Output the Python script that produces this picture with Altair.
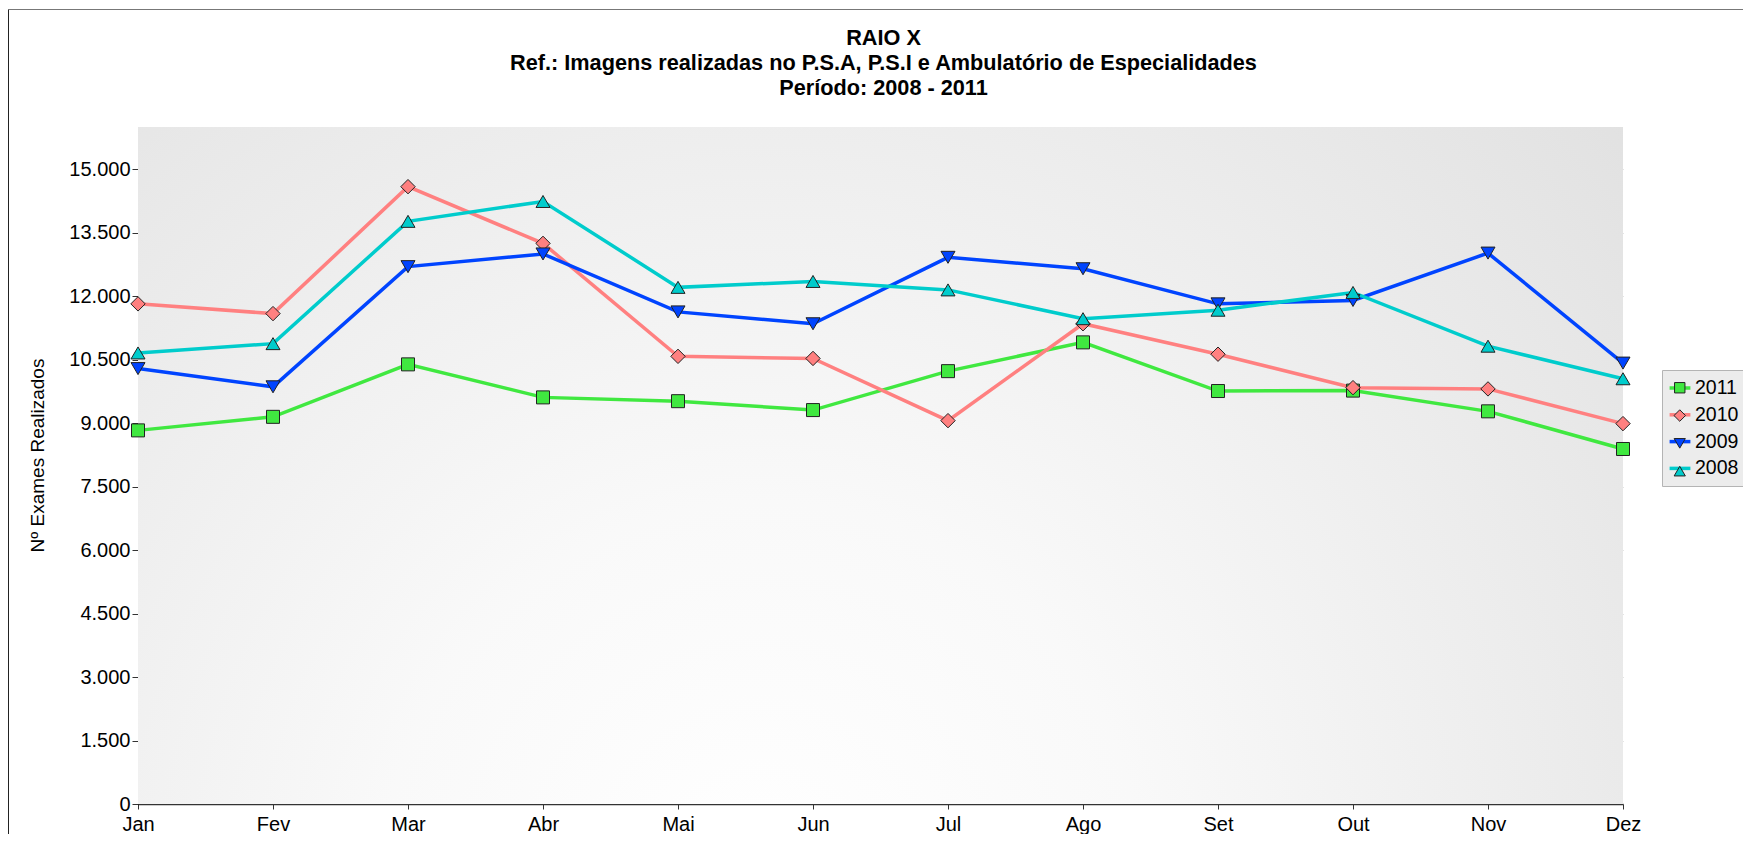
import altair as alt
import pandas as pd

# ---- data ----
months = ["Jan", "Fev", "Mar", "Abr", "Mai", "Jun", "Jul", "Ago", "Set", "Out", "Nov", "Dez"]
years = ["2011", "2010", "2009", "2008"]
v2011 = [8830, 9150, 10390, 9610, 9520, 9310, 10230, 10910, 9760, 9770, 9280, 8390]
v2010 = [11820, 11590, 14590, 13250, 10580, 10530, 9060, 11350, 10630, 9840, 9810, 8990]
v2009 = [10290, 9860, 12700, 13000, 11630, 11350, 12920, 12650, 11820, 11900, 13020, 10420]
v2008 = [10660, 10880, 13770, 14240, 12210, 12350, 12150, 11470, 11670, 12090, 10820, 10050]
y_ticks = [0, 1500, 3000, 4500, 6000, 7500, 9000, 10500, 12000, 13500, 15000]

colors = ["#40e840", "#ff8080", "#0044ff", "#00cccc"]
shape_paths = [
    "M-0.65,-0.65H0.65V0.65H-0.65Z",          # square
    "M0,-0.72L0.72,0L0,0.72L-0.72,0Z",         # diamond
    "M-0.7,-0.6H0.7L0,0.6Z",                   # triangle down
    "M-0.7,0.6H0.7L0,-0.6Z",                   # triangle up
]

series = {"2011": v2011, "2010": v2010, "2009": v2009, "2008": v2008}
rows = [{"Mes": m, "Ano": y, "Exames": v} for y in years for m, v in zip(months, series[y])]
df = pd.DataFrame(rows)
df["Ano2"] = df["Ano"]

FONT = "Liberation Sans"
W, H = 1485, 677

x_enc = alt.X("Mes:N", sort=months, scale=alt.Scale(type="point", padding=0),
              axis=alt.Axis(title=None, labelAngle=0, labelFontSize=20, labelColor="black",
                            labelPadding=5, tickSize=5, tickColor="#333333",
                            domainColor="#333333", domainWidth=1.5, grid=False))
y_enc = alt.Y("Exames:Q", scale=alt.Scale(domain=[0, 16000], nice=False),
              axis=alt.Axis(title="Nº Exames Realizados", values=y_ticks,
                            labelExpr="replace(format(datum.value, ',d'), ',', '.')",
                            labelFontSize=20, labelColor="black", labelPadding=2,
                            tickSize=6, tickColor="#333333", domainColor="black",
                            grid=True, gridColor="#c8c8c8", gridWidth=1,
                            titleFontSize=19, titleFontWeight="normal", titleColor="black",
                            titleX=-101, titleY=328, titleAngle=270,
                            titleAlign="center", titleBaseline="middle"))

one = pd.DataFrame({"k": [0]})

bg = alt.Chart(one).mark_rect(
    color=alt.RadialGradient(
        gradient="radial",
        stops=[alt.GradientStop(offset=0, color="#ffffff"),
               alt.GradientStop(offset=0.3, color="#f9f9f9"),
               alt.GradientStop(offset=1, color="#dedede")],
        x1=0.42, y1=0.78, r1=0, x2=0.42, y2=0.78, r2=0.85)
).encode(x=alt.value(0), x2=alt.value("width"), y=alt.value(0), y2=alt.value("height"))

# outer frame of the original chart (only its top and left edges are visible)
frame_top = alt.Chart(one).mark_rule(color="#777777", strokeWidth=1).encode(
    x=alt.value(-129.5), x2=alt.value(W + 300), y=alt.value(-117.5))
frame_left = alt.Chart(one).mark_rule(color="#222222", strokeWidth=1).encode(
    x=alt.value(-129.5), y=alt.value(-117.5), y2=alt.value(H + 200))

line_legend = alt.Legend(title=None, orient="none", legendX=1524, legendY=243,
                         symbolType="M-1.3,0H1.3", symbolSize=256, symbolStrokeWidth=3.5,
                         labelFontSize=19.5, labelColor="black", labelOffset=5,
                         padding=8, rowPadding=6.8, fillColor="#ececec", strokeColor="#b4b4b4")
point_legend = alt.Legend(title=None, orient="none", legendX=1524, legendY=243,
                          symbolSize=256, symbolStrokeWidth=1,
                          labelFontSize=19.5, labelColor="black", labelOffset=5, labelOpacity=0,
                          padding=8, rowPadding=6.8)

lines = alt.Chart(df).mark_line(strokeWidth=3.5).encode(
    x=x_enc, y=y_enc,
    color=alt.Color("Ano:N", sort="descending", scale=alt.Scale(range=colors), legend=line_legend),
)

points = alt.Chart(df).mark_point(filled=True, size=400, stroke="#222222", strokeWidth=1, opacity=1).encode(
    x=x_enc, y=y_enc,
    fill=alt.Fill("Ano2:N", sort="descending", scale=alt.Scale(range=colors), legend=point_legend),
    shape=alt.Shape("Ano2:N", sort="descending", scale=alt.Scale(range=shape_paths), legend=point_legend),
)

chart = alt.layer(bg, frame_top, frame_left, lines, points).properties(
    width=W, height=H,
    autosize=alt.AutoSizeParams(type="none"),
    padding={"left": 130, "top": 119, "right": 120, "bottom": 30},
    title=alt.TitleParams(
        text=["RAIO X",
              "Ref.: Imagens realizadas no P.S.A, P.S.I e Ambulatório de Especialidades",
              "Período: 2008 - 2011"],
        fontSize=21.7, fontWeight="bold", lineHeight=25, color="black",
        anchor="middle", offset=28, dy=118.5, dx=3, font=FONT),
).configure(font=FONT).configure_view(stroke=None)

chart.save("out.html", embed_options={"renderer": "svg", "actions": False})
